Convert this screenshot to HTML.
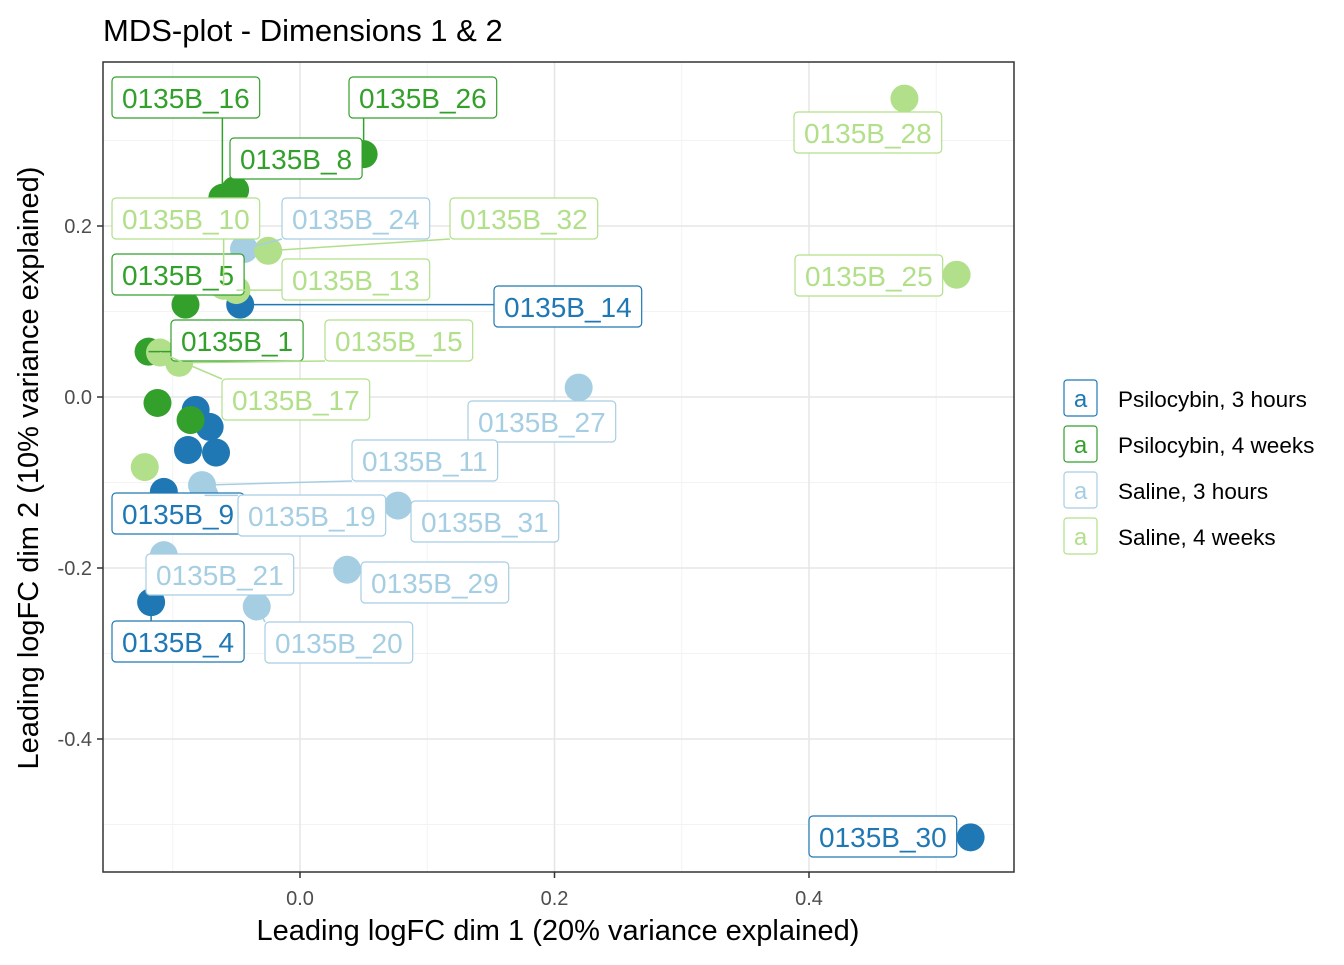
<!DOCTYPE html>
<html><head><meta charset="utf-8"><style>
body{margin:0;background:#fff;}
svg text{font-family:"Liberation Sans",sans-serif;}
</style></head><body>
<svg id="chart" width="1344" height="960" xmlns="http://www.w3.org/2000/svg">
<text x="103" y="41" font-size="31" fill="#000">MDS-plot - Dimensions 1 &amp; 2</text>
<g id="grid"></g>
<g id="pts"></g>
<g id="labs"></g>
<rect x="103" y="62" width="911" height="810" fill="none" stroke="#333" stroke-width="1.5"/>
<g id="ticks"></g>
<text x="558" y="940" font-size="29" text-anchor="middle" fill="#000">Leading logFC dim 1 (20% variance explained)</text>
<text transform="translate(38,468) rotate(-90)" font-size="29" text-anchor="middle" fill="#000">Leading logFC dim 2 (10% variance explained)</text>
<g id="legend"></g>
</svg>
<script>
const groups=["Psilocybin, 3 hours","Psilocybin, 4 weeks","Saline, 3 hours","Saline, 4 weeks"];
const colors=["#1F78B4","#33A02C","#A6CEE3","#B2DF8A"];
const sampleNames=["0135B_14","0135B_9","0135B_4","0135B_30","","","","",
"0135B_16","0135B_8","0135B_26","0135B_5","0135B_1","","",
"0135B_24","0135B_27","0135B_11","0135B_19","0135B_31","0135B_21","0135B_29","0135B_20",
"0135B_28","0135B_25","0135B_32","0135B_13","0135B_10","0135B_15","0135B_17",""];
const sampleGroup=[0,0,0,0,0,0,0,0, 1,1,1,1,1,1,1, 2,2,2,2,2,2,2,2, 3,3,3,3,3,3,3,3];
const dim1=[-0.047,-0.107,-0.117,0.527,-0.082,-0.071,-0.088,-0.066,
-0.061,-0.051,0.050,-0.090,-0.119,-0.112,-0.086,
-0.044,0.219,-0.077,-0.075,0.077,-0.107,0.037,-0.034,
0.475,0.516,-0.025,-0.050,-0.060,-0.095,-0.110,-0.122];
const dim2=[0.108,-0.111,-0.240,-0.515,-0.015,-0.035,-0.062,-0.065,
0.233,0.242,0.284,0.108,0.053,-0.007,-0.027,
0.173,0.011,-0.103,-0.115,-0.127,-0.185,-0.202,-0.245,
0.349,0.143,0.171,0.125,0.130,0.040,0.052,-0.082];
const xTicks=[0.0,0.2,0.4], xTickLabels=["0.0","0.2","0.4"];
const yTicks=[0.2,0.0,-0.2,-0.4], yTickLabels=["0.2","0.0","-0.2","-0.4"];
const xMinor=[-0.1,0.1,0.3,0.5], yMinor=[0.3,0.1,-0.1,-0.3,-0.5];
// label box placement (layout, not data): name -> [left, top]
const labelPos={"0135B_16":[112,77],"0135B_26":[349,77],"0135B_8":[230,138],"0135B_10":[112,198],
"0135B_24":[282,198],"0135B_32":[450,198],"0135B_5":[112,254],"0135B_13":[282,259],"0135B_14":[494,286],
"0135B_1":[171,320],"0135B_15":[325,320],"0135B_17":[222,379],"0135B_27":[468,401],"0135B_11":[352,440],
"0135B_9":[112,493],"0135B_19":[238,495],"0135B_31":[411,501],"0135B_21":[146,554],"0135B_29":[361,562],
"0135B_4":[112,621],"0135B_20":[265,622],"0135B_28":[794,112],"0135B_25":[795,255],"0135B_30":[809,816]};
const NS="http://www.w3.org/2000/svg";
const X=v=>300+v*1272.5, Y=v=>397-v*855;
function mk(tag,attrs,parent){const e=document.createElementNS(NS,tag);for(const k in attrs)e.setAttribute(k,attrs[k]);parent.appendChild(e);return e;}
const grid=document.getElementById('grid');
xMinor.forEach(v=>{const l=mk('line',{x1:X(v),x2:X(v),y1:62,y2:872,stroke:'#f3f3f3','stroke-width':1},grid);});
yMinor.forEach(v=>{if(Y(v)<62||Y(v)>872)return;const l=mk('line',{x1:103,x2:1014,y1:Y(v),y2:Y(v),stroke:'#f3f3f3','stroke-width':1},grid);});
xTicks.forEach(v=>{const l=mk('line',{x1:X(v),x2:X(v),y1:62,y2:872,stroke:'#e6e6e6','stroke-width':1.5},grid);});
yTicks.forEach(v=>{const l=mk('line',{x1:103,x2:1014,y1:Y(v),y2:Y(v),stroke:'#e6e6e6','stroke-width':1.5},grid);});
const ticks=document.getElementById('ticks');
xTicks.forEach((v,i)=>{mk('line',{x1:X(v),x2:X(v),y1:872,y2:878,stroke:'#333','stroke-width':1.5},ticks);
const t=mk('text',{x:X(v),y:905,'font-size':20,'text-anchor':'middle',fill:'#4d4d4d'},ticks);t.textContent=xTickLabels[i];
});
yTicks.forEach((v,i)=>{mk('line',{x1:97,x2:103,y1:Y(v),y2:Y(v),stroke:'#333','stroke-width':1.5},ticks);
const t=mk('text',{x:92,y:Y(v)+7,'font-size':20,'text-anchor':'end',fill:'#4d4d4d'},ticks);t.textContent=yTickLabels[i];
});
const pts=document.getElementById('pts');
dim1.forEach((v,i)=>{const c=mk('circle',{cx:X(v),cy:Y(dim2[i]),r:14,fill:colors[sampleGroup[i]]},pts);
});
const labs=document.getElementById('labs');
dim1.forEach((v,i)=>{const n=sampleNames[i];if(!n||!labelPos[n])return;
const col=colors[sampleGroup[i]];const [lx,ly]=labelPos[n];
const g=mk('g',{},labs);
const t=mk('text',{x:lx+10,y:ly+31,'font-size':28,fill:col},g);t.textContent=n;
const w=t.getComputedTextLength()+20,h=41;
const px=X(v),py=Y(dim2[i]);
const cx=Math.max(lx,Math.min(px,lx+w)),cy=Math.max(ly,Math.min(py,ly+h));
if(Math.hypot(cx-px,cy-py)>16)mk('line',{x1:px,y1:py,x2:cx,y2:cy,stroke:col,'stroke-width':1.5},g);
const r=mk('rect',{x:lx,y:ly,width:w,height:h,rx:4,fill:'#fff',stroke:col,'stroke-width':1.2},g);
g.insertBefore(r,t);});
const leg=document.getElementById('legend');
groups.forEach((gname,i)=>{const y=380+i*46;const g=mk('g',{},leg);

mk('rect',{x:1064,y:y,width:33,height:36,rx:3,fill:'#fff',stroke:colors[i],'stroke-width':1.2},g);
const a=mk('text',{x:1080.5,y:y+27,'font-size':24,'text-anchor':'middle',fill:colors[i]},g);a.textContent='a';
const t=mk('text',{x:1118,y:y+27,'font-size':22.5,fill:'#000'},g);t.textContent=gname;});
</script>
</body></html>
